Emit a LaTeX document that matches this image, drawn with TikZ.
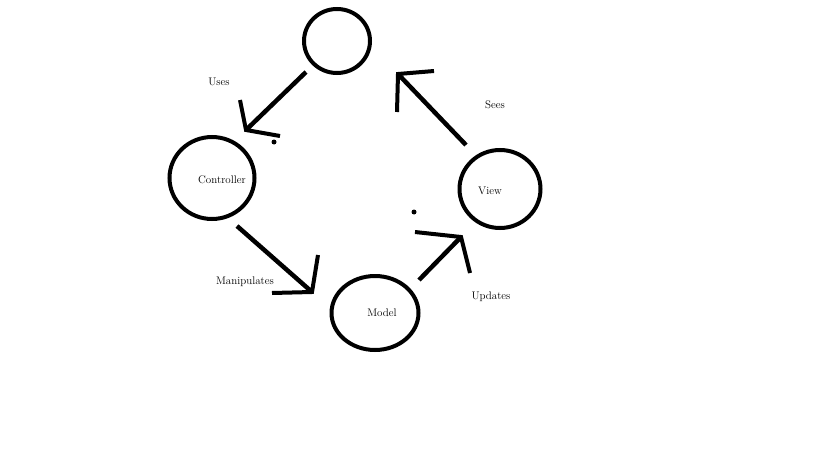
\documentclass[tikz,border=0pt]{standalone}
\usepackage{tikz}
\usetikzlibrary{shapes.geometric}

\begin{document}
\begin{tikzpicture}[x=1pt,y=-1pt,
  blob/.style={ellipse,draw,line width=4pt,inner sep=0pt},
  stroke/.style={line width=4.5pt,line join=miter},
  arm/.style={line width=4pt,line join=miter},
  lbl/.style={font=\fontsize{11}{13}\selectfont}]
\useasboundingbox (0,0) rectangle (819,460);
\node[blob,minimum width=66,minimum height=64] (actor) at (337,41) {};
\node[blob,minimum width=85,minimum height=82] (ctrl) at (212,178) {};
\node[blob,minimum width=81,minimum height=78] (view) at (500,189) {};
\node[blob,minimum width=87,minimum height=74] (model) at (375,313) {};
\node[lbl] (ctrltxt) at (222,180) {Controller};
\node[lbl] (viewtxt) at (490,191) {View};
\node[lbl] (modeltxt) at (382,313) {Model};
\coordinate (u-s) at (306,72);
\coordinate (u-t) at (246,130);
\coordinate (u-a) at (240,100);
\coordinate (u-b) at (280,136);
\coordinate (m-s) at (237,226);
\coordinate (m-t) at (312,292);
\coordinate (m-a) at (318,255);
\coordinate (m-b) at (272,293);
\coordinate (p-s) at (419,280);
\coordinate (p-t) at (461,237);
\coordinate (p-a) at (415,232);
\coordinate (p-b) at (470,273);
\coordinate (v-s) at (466,145);
\coordinate (v-t) at (398,74);
\coordinate (v-a) at (434,71);
\coordinate (v-b) at (397,112);
\draw[stroke] (u-s) -- (u-t);
\draw[arm] (u-a) -- (u-t) -- (u-b);
\draw[stroke] (m-s) -- (m-t);
\draw[arm] (m-a) -- (m-t) -- (m-b);
\draw[stroke] (p-s) -- (p-t);
\draw[arm] (p-a) -- (p-t) -- (p-b);
\draw[stroke] (v-s) -- (v-t);
\draw[arm] (v-a) -- (v-t) -- (v-b);
\fill (274,142) circle (2.5);
\fill (414,212) circle (2.5);
\node[lbl] (uses) at (219,82) {Uses};
\node[lbl] (manip) at (245,282) {Manipulates};
\node[lbl] (upd) at (491,297) {Updates};
\node[lbl] (sees) at (495,105) {Sees};
\end{tikzpicture}
\end{document}
